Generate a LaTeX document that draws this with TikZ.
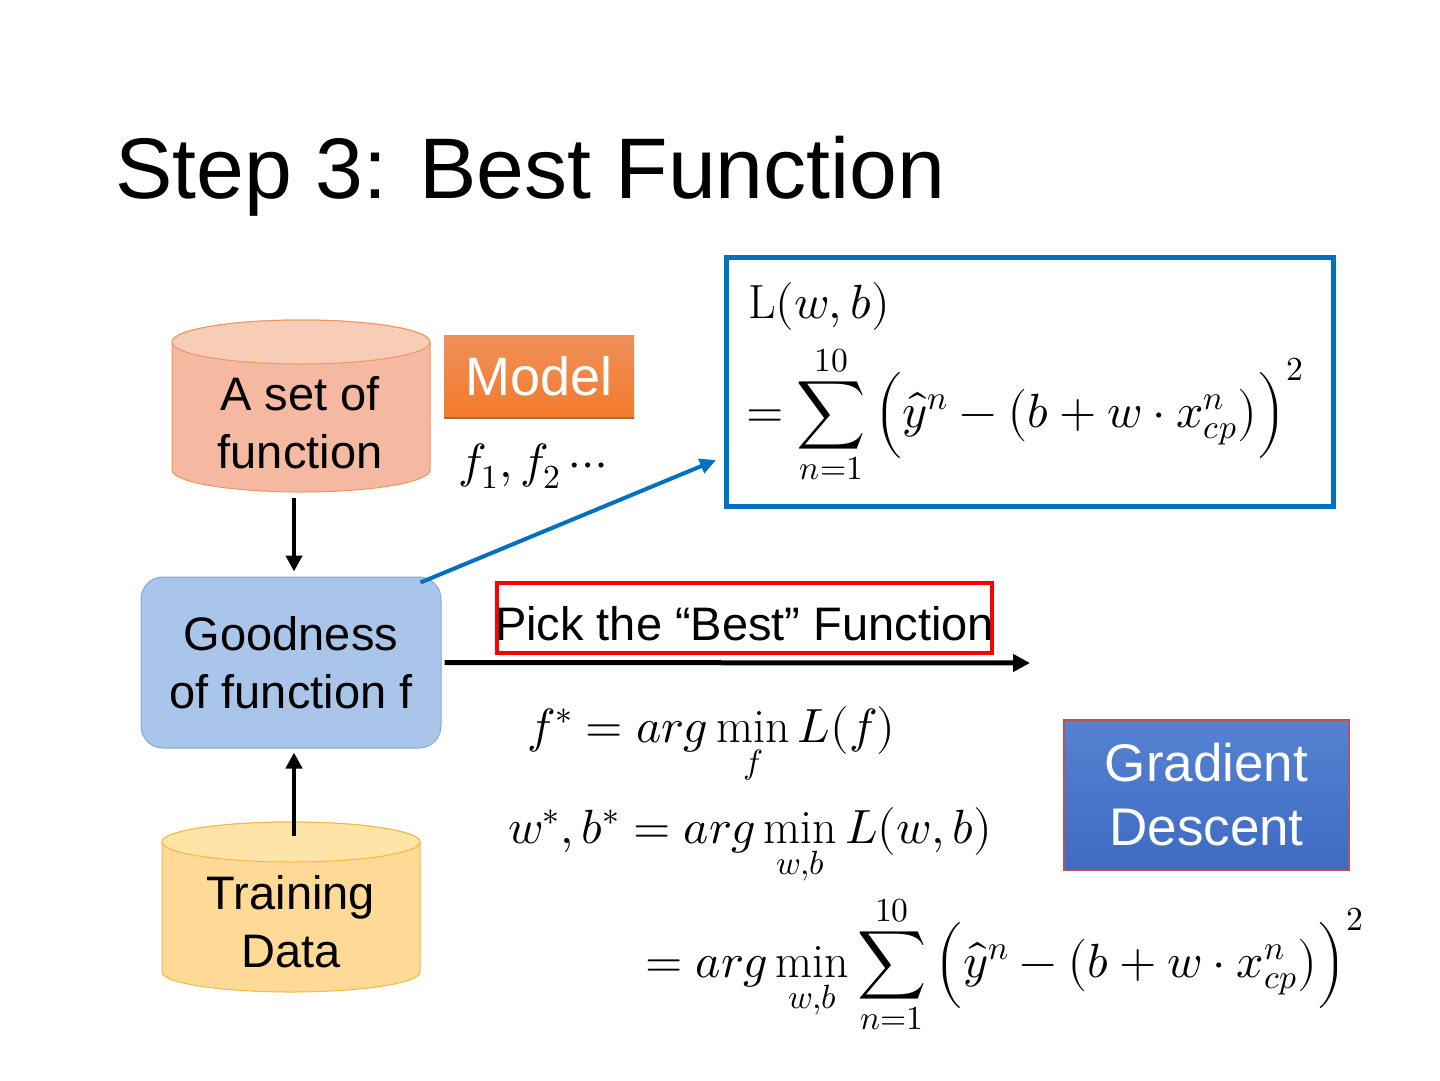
\documentclass[tikz,border=0pt]{standalone}
\usepackage{amsmath}
\usepackage{fontspec}
\usepackage{unicode-math}
\setmainfont{Liberation Sans}
\setmathfont{Latin Modern Math}
\setmathrm{Latin Modern Roman}
\usetikzlibrary{arrows.meta,calc}
\definecolor{setbody}{HTML}{F5B8A0}
\definecolor{settop}{HTML}{F8CDB8}
\definecolor{setborder}{HTML}{F0965A}
\definecolor{modeltop}{HTML}{F0905A}
\definecolor{modelbot}{HTML}{F27A2C}
\definecolor{modeledge}{HTML}{A86A48}
\definecolor{goodfill}{HTML}{A9C5EA}
\definecolor{goodborder}{HTML}{86A8DA}
\definecolor{tdbody}{HTML}{FFD996}
\definecolor{tdtop}{HTML}{FFE4A8}
\definecolor{tdborder}{HTML}{F4B942}
\definecolor{lossblue}{HTML}{0070C0}
\definecolor{gdtop}{HTML}{5682D2}
\definecolor{gdbot}{HTML}{3E6BC2}
\definecolor{gdborder}{HTML}{C0504D}
\begin{document}
\begin{tikzpicture}[x=1pt,y=-1pt,
  blk/.style={line width=4pt,-{Triangle[length=16pt,width=16pt]}},
  bodytext/.style={font=\fontsize{47}{58}\selectfont, align=center, inner sep=0pt},
  mathtext/.style={font=\fontsize{48}{56}\selectfont, anchor=base west, inner sep=0pt}
]
\fill[white] (0,0) rectangle (1440,1080);
\useasboundingbox (0,0) rectangle (1440,1080);

% title
\node[anchor=base west, inner sep=0pt, font=\fontsize{86}{100}\selectfont] (title) at (115,198) {Step 3: Best Function};

% cylinder: a set of function
\draw[setborder, fill=setbody, line width=1pt] (172,342) -- (172,470)
  arc[start angle=180, end angle=0, x radius=129, y radius=22] -- (430,342)
  arc[start angle=0, end angle=-180, x radius=129, y radius=22] -- cycle;
\draw[setborder, fill=settop, line width=1pt] (301,342) ellipse[x radius=129, y radius=22];
\node[minimum width=258pt, minimum height=172pt, inner sep=0pt] (set) at (301,406) {};
\node[bodytext] (settext) at (300,423) {A set of\\function};

% Model
\node[top color=modeltop, bottom color=modelbot, minimum width=190pt, minimum height=83pt, inner sep=0pt,
      text=white, font=\fontsize{54}{60}\selectfont] (model) at (539,376.5) {Model};
\draw[modeledge, line width=2pt] (model.south west) -- (model.south east);
\node[mathtext] (fs) at (458,477) {$f_1, f_2\cdots$};

% Goodness
\node[bodytext, rounded corners=22pt, fill=goodfill, draw=goodborder, line width=1pt,
      minimum width=300pt, minimum height=171pt] (good) at (291,662.5) {Goodness\\of function f};

% Training data
\draw[tdborder, fill=tdbody, line width=1pt] (162,842) -- (162,972)
  arc[start angle=180, end angle=0, x radius=129, y radius=20] -- (420,842)
  arc[start angle=0, end angle=-180, x radius=129, y radius=20] -- cycle;
\draw[tdborder, fill=tdtop, line width=1pt] (291,842) ellipse[x radius=129, y radius=20];
\node[minimum width=258pt, minimum height=170pt, inner sep=0pt] (td) at (291,907) {};
\node[bodytext] (tdtext) at (291,922) {Training\\Data};

% vertical arrows
\draw[blk] ([xshift=-7pt,yshift=-6pt]set.south) -- ([xshift=3pt,yshift=5pt]good.north);
\draw[blk] ([xshift=3pt,yshift=-14pt]td.north) -- ([xshift=3pt,yshift=-4pt]good.south);

% loss box
\node[draw=lossblue, line width=5pt, minimum width=607pt, minimum height=249pt, inner sep=0pt] (loss) at (1029.5,381.5) {};
\node[mathtext] (lwb) at (748,318) {$\mathrm{L}(w,b)$};
\node[mathtext] (lsum) at (746,427)
  {$\displaystyle = \sum_{n=1}^{10}\Big(\hat{y}^n-\big(b+w\cdot x_{cp}^n\big)\Big)^2$};
\coordinate (lossin) at (716,460);
\draw[lossblue, line width=4pt, -{Triangle[length=16pt,width=15pt]}] ([xshift=-21pt,yshift=-6pt]good.north east) -- (lossin);

% pick arrow
\coordinate (pickend) at (1030,663);
\draw[line width=5pt, -{Triangle[length=17pt,width=17pt]}] ([xshift=3pt]good.east) -- (pickend);
\node[draw=red, line width=4pt, minimum width=495pt, minimum height=70pt, inner sep=0pt] (pick) at (744.5,618) {};
\node[anchor=base, inner sep=0pt, font=\fontsize{47}{56}\selectfont] (picktext) at (744.5,640) {Pick the “Best” Function};

% equations
\node[mathtext] (fstar) at (527,742) {$f^* = arg\min\limits_{f} L(f)$};
\node[mathtext] (wstar) at (508,843) {$w^*, b^* = arg\min\limits_{w,b} L(w,b)$};
\node[mathtext] (third) at (645,977)
  {$\displaystyle = arg\min_{w,b}\sum_{n=1}^{10}\Big(\hat{y}^n-\big(b+w\cdot x_{cp}^n\big)\Big)^2$};

% gradient descent
\node[draw=gdborder, line width=1.5pt, top color=gdtop, bottom color=gdbot, minimum width=285pt, minimum height=150pt,
      inner sep=0pt, align=center, text=white, font=\fontsize{53}{64}\selectfont] (gd) at (1206.5,795) {Gradient\\Descent};
\end{tikzpicture}
\end{document}
